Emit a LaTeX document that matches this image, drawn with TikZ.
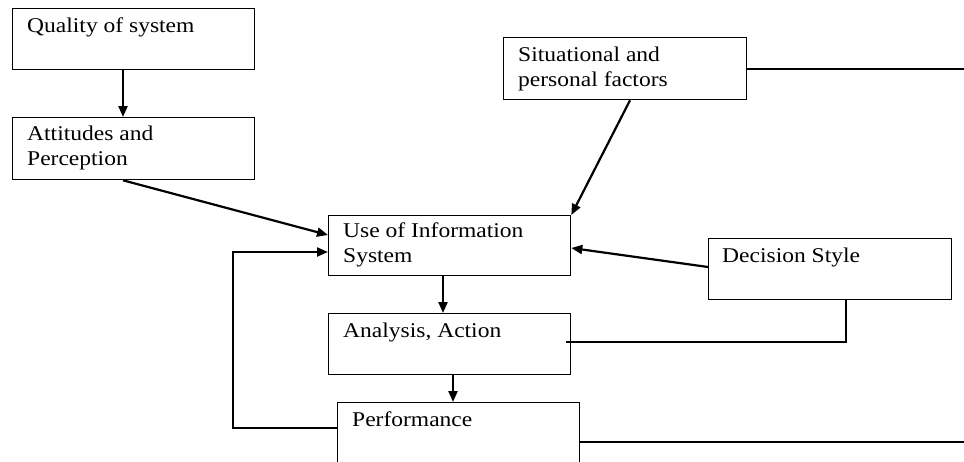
\documentclass[tikz,border=0pt]{standalone}
\usepackage{fontspec}
\setmainfont{Liberation Serif}[FakeStretch=1.12]
\usetikzlibrary{arrows.meta}
\begin{document}
\begin{tikzpicture}[x=1pt,y=-1pt,
  box/.style={draw, line width=1.3pt, rectangle, inner sep=0pt, anchor=north west},
  lbl/.style={anchor=base west, inner sep=0pt, align=left, font=\fontsize{21}{25}\selectfont},
  arr/.style={line width=2.2pt, -{Triangle[length=11pt,width=9pt]}},
  ln/.style={line width=2.2pt}]
\useasboundingbox (0,0) rectangle (964,461);
\clip (0,0) rectangle (964,461);
% boxes
\node[box, minimum width=242pt, minimum height=61pt] (q) at (12,8) {};
\node[box, minimum width=242pt, minimum height=62pt] (att) at (12,117) {};
\node[box, minimum width=243pt, minimum height=62pt] (sit) at (503,37) {};
\node[box, minimum width=242pt, minimum height=60pt] (use) at (328,215) {};
\node[box, minimum width=243pt, minimum height=61pt] (dec) at (708,238) {};
\node[box, minimum width=242pt, minimum height=61pt] (ana) at (328,313) {};
\node[box, minimum width=242pt, minimum height=80pt] (perf) at (337,402) {};
% labels (multi-line labels anchored at the last line's baseline)
\node[lbl] (tq) at (27,32) {Quality of system};
\node[lbl] (tatt) at (27,165) {Attitudes and\\Perception};
\node[lbl] (tsit) at (518,86) {Situational and\\personal factors};
\node[lbl] (tuse) at (343,262) {Use of Information\\System};
\node[lbl] (tdec) at (722,262) {Decision Style};
\node[lbl] (tana) at (343,337) {Analysis, Action};
\node[lbl] (tperf) at (352,426) {Performance};
% free ends
\coordinate (e1) at (964,69);
\coordinate (e2) at (964,442);
% connectors
\draw[arr] ([xshift=111pt]q.south west) -- ([xshift=111pt]att.north west);
\draw[arr] ([xshift=111pt]att.south west) -- ([yshift=-20pt]use.north west);
\draw[arr] ([xshift=127pt]sit.south west) -- (use.north east);
\draw[arr] ([yshift=-29pt]dec.north west) -- ([yshift=-33pt]use.north east);
\draw[ln] ([xshift=138pt]dec.south west) |- ([xshift=-5pt,yshift=-29pt]ana.north east);
\draw[arr] ([xshift=115pt]use.south west) -- ([xshift=115pt]ana.north west);
\draw[arr] ([xshift=125pt]ana.south west) -- ([xshift=116pt]perf.north west);
\draw[arr] ([yshift=-26pt]perf.north west) -| ([xshift=-95pt,yshift=-37pt]use.north west) -- ([yshift=-37pt]use.north west);
\draw[ln] ([yshift=-32pt]sit.north east) -- (e1);
\draw[ln] ([yshift=-40pt]perf.north east) -- (e2);
\end{tikzpicture}
\end{document}
